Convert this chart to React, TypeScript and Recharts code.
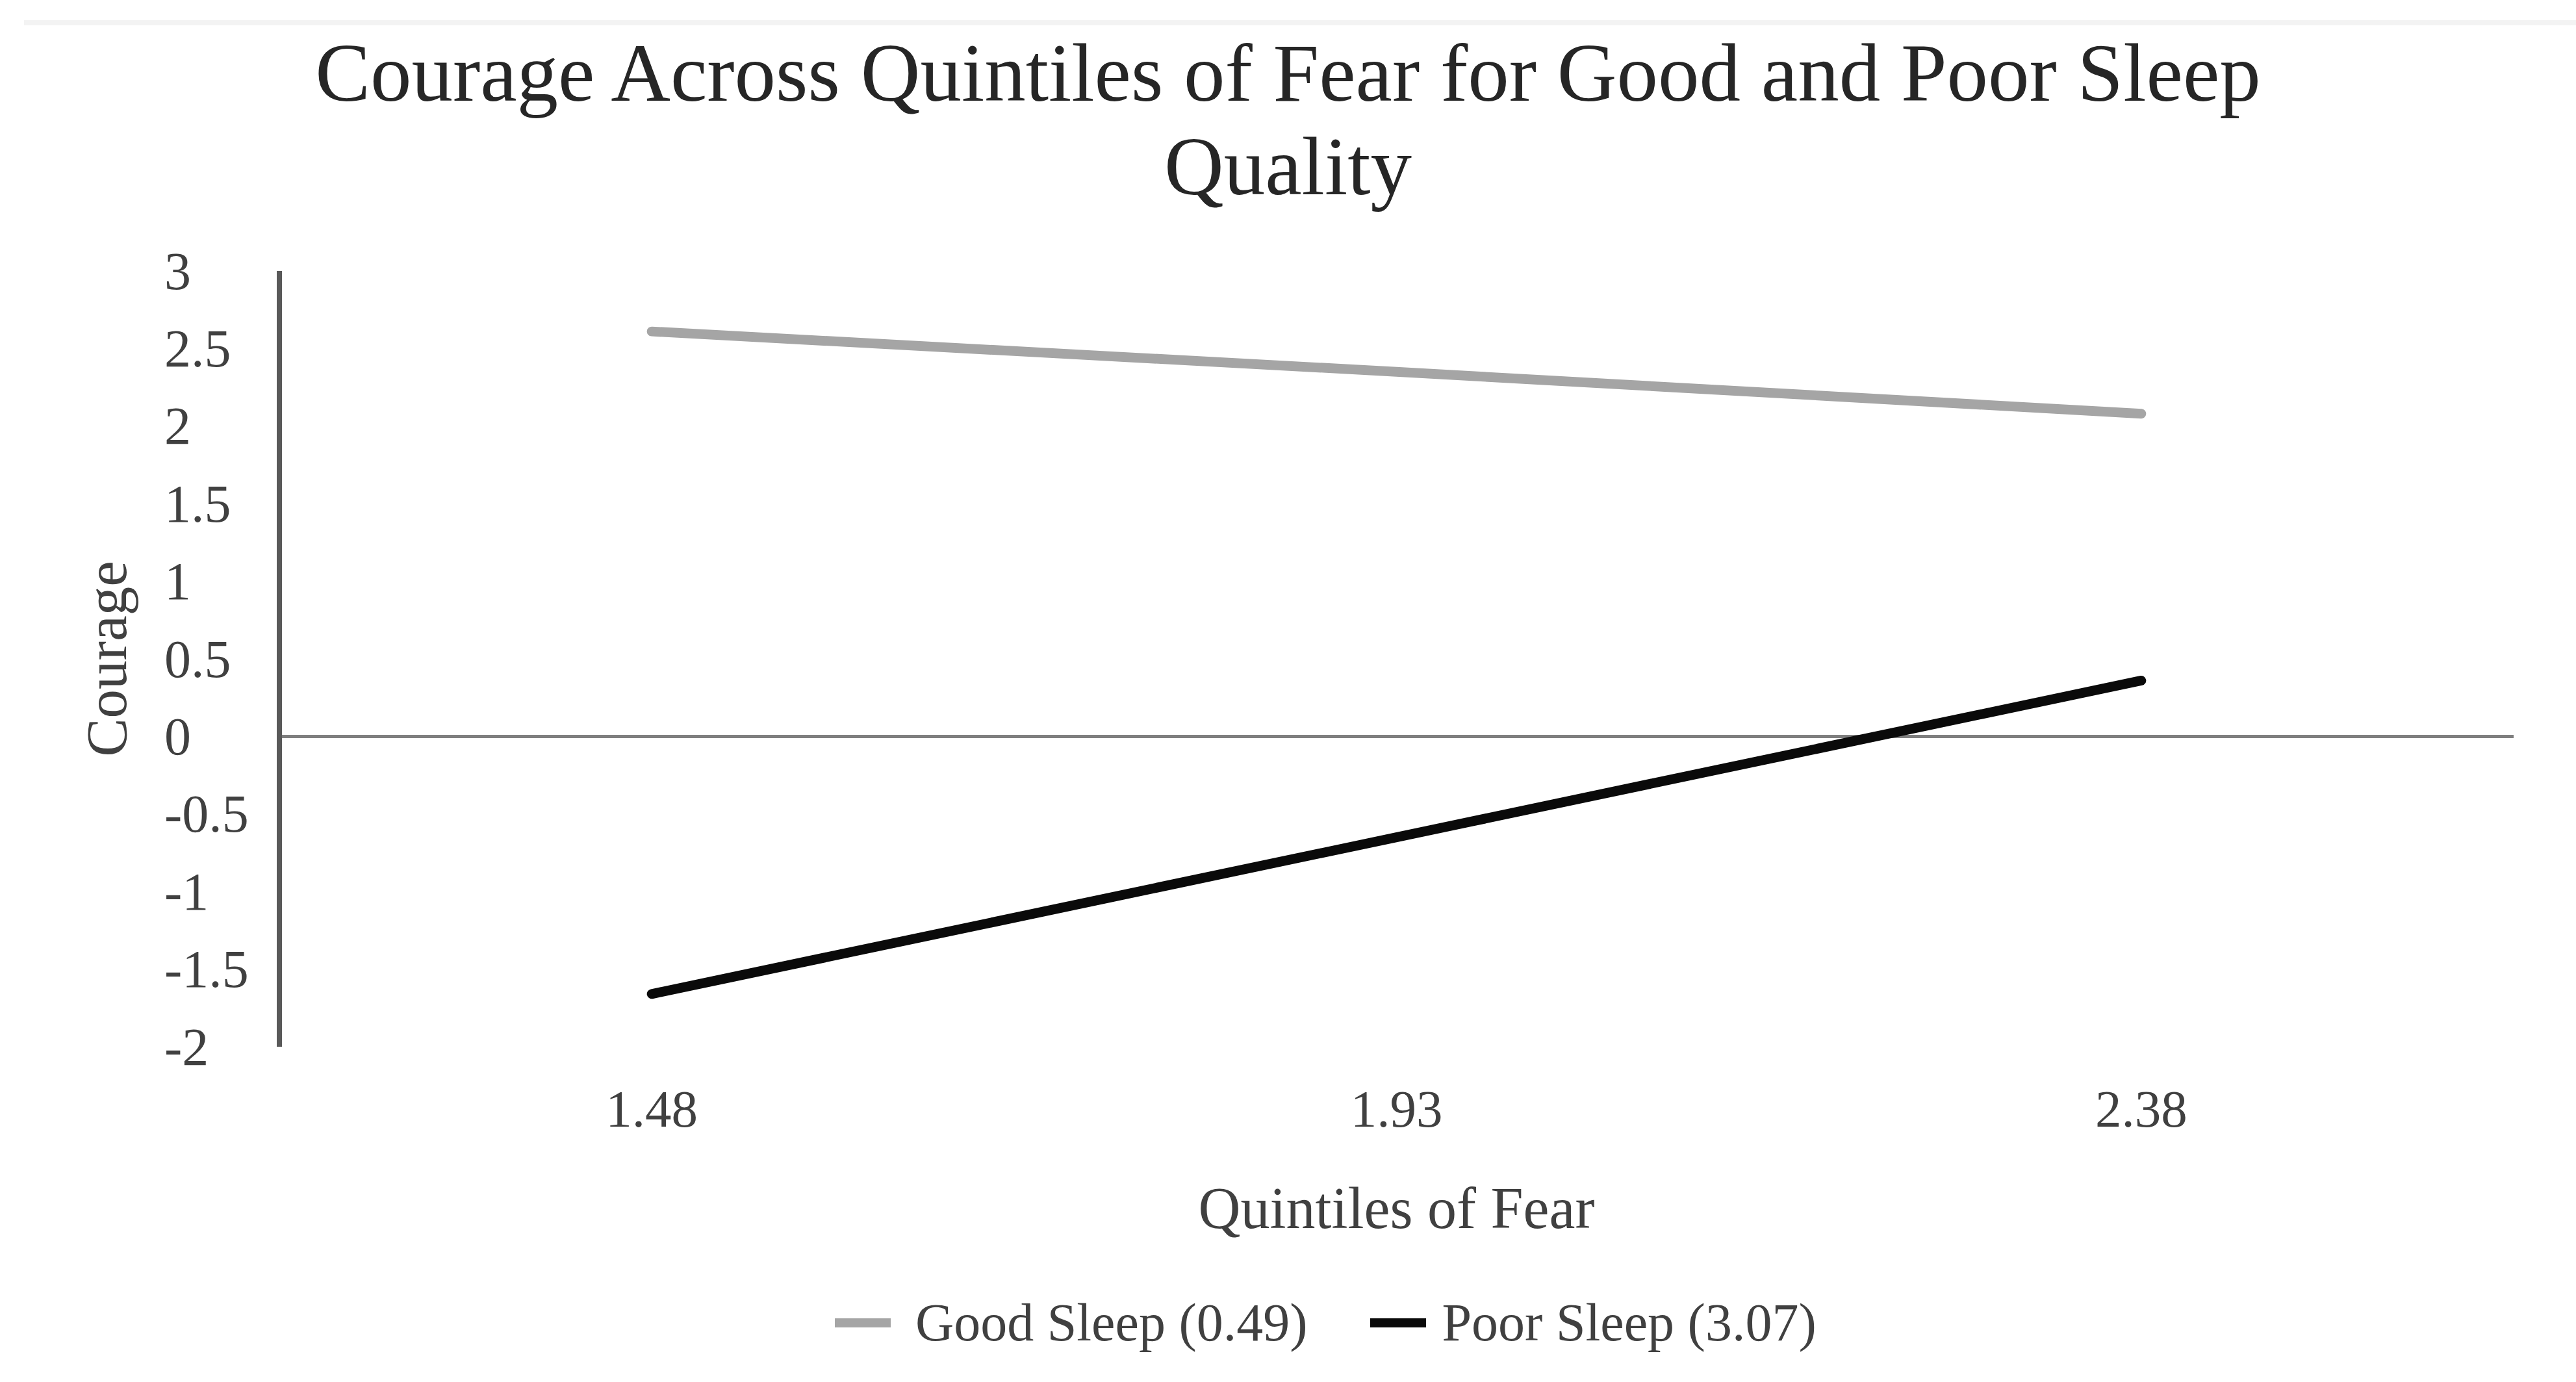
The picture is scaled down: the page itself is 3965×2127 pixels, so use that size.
import React from 'react';
import { LineChart, Line, XAxis, YAxis, ReferenceLine, Legend, Label } from 'recharts';

const categories = ['1.48', '1.93', '2.38'];
const goodSleep = [2.61, 2.35, 2.08];
const poorSleep = [-1.66, -0.65, 0.36];
const yTicks = [-2, -1.5, -1, -0.5, 0, 0.5, 1, 1.5, 2, 2.5, 3];
const seriesNames = ['Good Sleep (0.49)', 'Poor Sleep (3.07)'];
const titleLines = ['Courage Across Quintiles of Fear for Good and Poor Sleep', 'Quality'];

const W = 3965;
const H = 2127;
const FONT = '"Liberation Serif", "Times New Roman", serif';
const TEXT = '#404040';
const margin = { top: 417, right: 96, left: 0, bottom: 216 };
const yAxisWidth = 430;
const xAxisHeight = 200;
const legendHeight = 100;
// points sit in the middle of equal bands, like Excel's category axis
const plotWidth = W - margin.left - yAxisWidth - margin.right;
const bandPad = plotWidth / 6;

const data = categories.map((c, i) => ({ fear: c, good: goodSleep[i], poor: poorSleep[i] }));

const YTick = ({ x, y, payload }: any) => (
  <text x={x - 177} y={y} textAnchor="start" dominantBaseline="central"
    fontFamily={FONT} fontSize={82} fill={TEXT}>
    {String(payload.value)}
  </text>
);

const XTick = ({ x, y, payload }: any) => (
  <text x={x} y={y + 96} textAnchor="middle" dominantBaseline="central"
    fontFamily={FONT} fontSize={81} fill={TEXT}>
    {payload.value}
  </text>
);

const LegendContent = ({ payload }: any) => (
  <div style={{ display: 'flex', alignItems: 'center', height: legendHeight, fontFamily: FONT, fontSize: 82, color: TEXT, whiteSpace: 'nowrap' }}>
    {(payload || []).map((p: any, i: number) => (
      <div key={i} style={{ display: 'flex', alignItems: 'center', marginRight: 96 }}>
        <div style={{ width: 86, height: 14, background: p.color, marginRight: i === 0 ? 38 : 25 }} />
        <span>{p.value}</span>
      </div>
    ))}
  </div>
);

export default function App() {
  return (
    <div style={{ position: 'absolute', left: 0, top: 0, width: W, height: H, background: '#fff', overflow: 'hidden' }}>
      <div style={{ position: 'absolute', left: 37, right: 0, top: 31, height: 8, background: '#f3f3f3' }} />
      <LineChart width={W} height={H} data={data} margin={margin}>
        <XAxis
          dataKey="fear"
          type="category"
          height={xAxisHeight}
          axisLine={false}
          tickLine={false}
          tickSize={0}
          tickMargin={0}
          padding={{ left: bandPad, right: bandPad }}
          tick={<XTick />}
          interval={0}
        >
          <Label
            content={({ viewBox }: any) => (
              <text x={viewBox.x + viewBox.width / 2} y={viewBox.y + 248} textAnchor="middle"
                dominantBaseline="central" fontFamily={FONT} fontSize={90} fill={TEXT}>
                Quintiles of Fear
              </text>
            )}
          />
        </XAxis>
        <YAxis
          type="number"
          domain={[-2, 3]}
          ticks={yTicks}
          interval={0}
          width={yAxisWidth}
          axisLine={{ stroke: '#595959', strokeWidth: 8 }}
          tickLine={false}
          tickSize={0}
          tickMargin={0}
          tick={<YTick />}
        >
          <Label
            content={({ viewBox }: any) => {
              const cx = viewBox.x + 164;
              const cy = viewBox.y + viewBox.height / 2;
              return (
                <text x={cx} y={cy} transform={`rotate(-90 ${cx} ${cy})`} textAnchor="middle"
                  dominantBaseline="central" fontFamily={FONT} fontSize={89} fill={TEXT}>
                  Courage
                </text>
              );
            }}
          />
        </YAxis>
        <ReferenceLine y={0} stroke="#7f7f7f" strokeWidth={5} />
        <Line
          type="linear"
          dataKey="good"
          name={seriesNames[0]}
          stroke="#a5a5a5"
          strokeWidth={15}
          strokeLinecap="round"
          dot={false}
          activeDot={false}
          isAnimationActive={false}
        />
        <Line
          type="linear"
          dataKey="poor"
          name={seriesNames[1]}
          stroke="#0a0a0a"
          strokeWidth={15}
          strokeLinecap="round"
          dot={false}
          activeDot={false}
          isAnimationActive={false}
        />
        <Legend
          verticalAlign="bottom"
          content={<LegendContent />}
          wrapperStyle={{ position: 'absolute', left: 1285, top: 1986, bottom: 'auto', width: 'auto', height: legendHeight }}
        />
      </LineChart>
      <div style={{ position: 'absolute', left: 0, top: 40, width: W, textAlign: 'center', fontFamily: FONT, fontSize: 127, lineHeight: '144px', color: '#262626' }}>
        {titleLines.map((t, i) => (
          <div key={i}>{t}</div>
        ))}
      </div>
    </div>
  );
}
